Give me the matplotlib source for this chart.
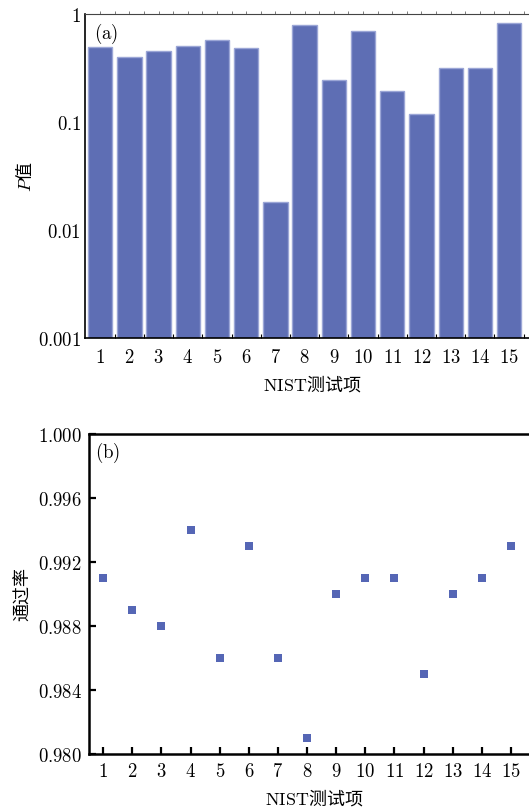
import numpy as np
import matplotlib
matplotlib.use("Agg")
import matplotlib.pyplot as plt

plt.rcParams['font.family'] = ['Noto Sans CJK SC', 'DejaVu Sans']
plt.rcParams['mathtext.fontset'] = 'cm'

# NIST test items
items = list(range(1, 16))
# (a) P values
p_values = [0.49, 0.40, 0.45, 0.51, 0.57, 0.48, 0.0183, 0.785,
            0.243, 0.69, 0.192, 0.118, 0.314, 0.314, 0.82]
# (b) pass rates
pass_rates = [0.991, 0.989, 0.988, 0.994, 0.986, 0.993, 0.986, 0.981,
              0.990, 0.991, 0.991, 0.985, 0.990, 0.991, 0.993]
p_ticks = [0.001, 0.01, 0.1, 1]
p_ticklabels = ['0.001', '0.01', '0.1', '1']
rate_ticks = [0.980, 0.984, 0.988, 0.992, 0.996, 1.000]

bar_color = '#5E6EB4'
edge_color = '#9BA6D6'
fs = 13.5
fs_lab = 13

W, H = 529, 810
fig = plt.figure(figsize=(W / 100, H / 100), dpi=100)

def math_label(s):
	return r'$\mathrm{' + s + '}$'

# ---- (a) ----
ax1 = fig.add_axes([85.3 / W, 1 - 338.3 / H, (540 - 85.3) / W, (338.3 - 14) / H])
ax1.bar(items, p_values, width=0.83, color=bar_color, edgecolor=edge_color,
        linewidth=1.0, bottom=0)
ax1.set_yscale('log')
ax1.set_ylim(0.001, 1)
ax1.set_xlim(0.49, 16.06)
ax1.set_yticks(p_ticks)
ax1.set_yticklabels([math_label(t) for t in p_ticklabels], fontsize=fs)
ax1.yaxis.set_minor_locator(matplotlib.ticker.NullLocator())
ax1.tick_params(axis='y', length=0, pad=3)
ax1.set_xticks(items)
ax1.set_xticklabels([math_label(str(i)) for i in items], fontsize=fs)
ax1.tick_params(axis='x', which='major', length=0, pad=6)
ax1.set_xticks(np.arange(1.5, 16, 1.0), minor=True)
ax1.tick_params(axis='x', which='minor', direction='in', length=3,
                width=0.8, color='black', top=False)
for s in ['top', 'right']:
	ax1.spines[s].set_linewidth(0.8)
	ax1.spines[s].set_color('#444444')
ax1.spines['left'].set_linewidth(1.2)
ax1.spines['bottom'].set_linewidth(1.2)
ax1.set_xlabel(r'$\mathrm{NIST}$测试项', fontsize=fs_lab, labelpad=4)
ax1.set_ylabel(r'$P$值', fontsize=fs_lab, labelpad=2)
ax1.text(94 / W, 1 - 34 / H, math_label('(a)'), transform=fig.transFigure,
         fontsize=fs, va='center', ha='left')
sec = ax1.secondary_xaxis('top')
sec.set_xticks(np.arange(1.0, 16.5, 0.5))
sec.set_xticklabels([])
sec.tick_params(direction='out', length=2, width=0.6, color='#666666')
sec.spines['top'].set_visible(False)

# ---- (b) ----
ax2 = fig.add_axes([88.7 / W, 1 - 753.7 / H, (540 - 88.7) / W, (753.7 - 434) / H])
ax2.scatter(items, pass_rates, marker='s', s=32, color='#5566B5', zorder=3,
            linewidths=0)
ax2.set_ylim(0.980, 1.000)
ax2.set_xlim(0.5, 16.0)
ax2.set_yticks(rate_ticks)
ax2.set_yticklabels([math_label('%.3f' % t) for t in rate_ticks], fontsize=fs)
ax2.set_xticks(items)
ax2.set_xticklabels([math_label(str(i)) for i in items], fontsize=fs)
ax2.tick_params(direction='in', length=5, width=1.6, pad=5)
for s in ax2.spines.values():
	s.set_linewidth(1.8)
ax2.set_xlabel(r'$\mathrm{NIST}$测试项', fontsize=fs_lab, labelpad=4)
ax2.set_ylabel('通过率', fontsize=fs_lab, labelpad=4)
ax2.text(95 / W, 1 - 453 / H, math_label('(b)'), transform=fig.transFigure,
         fontsize=fs, va='center', ha='left')

fig.savefig('out.png', dpi=100)
